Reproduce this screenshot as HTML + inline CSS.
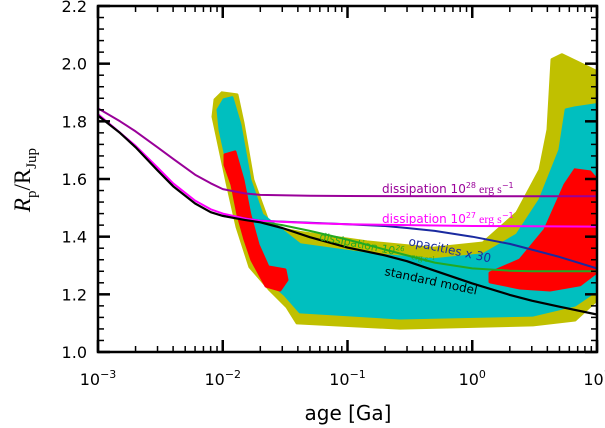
<!DOCTYPE html>
<html><head><meta charset="utf-8"><style>
html,body{margin:0;padding:0;background:#fff;}
svg{display:block;font-family:"DejaVu Sans","Liberation Sans",sans-serif;}
</style></head><body>
<svg id="chart" width="605" height="428" viewBox="0 0 605 428" xmlns="http://www.w3.org/2000/svg">
<g id="regions"></g>
<g id="curves"></g>
<g id="axes"></g>
<g id="labels">
  <text x="382" y="193" font-size="12" fill="#990099">dissipation 10<tspan font-size="8" dy="-5">28</tspan><tspan font-family="Liberation Serif" dy="5"> erg s</tspan><tspan font-size="8" dy="-5">−1</tspan></text>
  <text x="382" y="223" font-size="12" fill="#ff00ff">dissipation 10<tspan font-size="8" dy="-5">27</tspan><tspan font-family="Liberation Serif" dy="5"> erg s</tspan><tspan font-size="8" dy="-5">−1</tspan></text>
  <text x="319" y="240" font-size="11" fill="#22aa22" transform="rotate(11 319 240)">dissipation 10<tspan font-size="7" dy="-5">26</tspan></text>
  <text x="411" y="259" font-size="9" fill="#22aa22" font-family="Liberation Serif" transform="rotate(10 411 259)">erg s<tspan font-size="6" dy="-3">−1</tspan></text>
  <text x="408" y="245" font-size="12" fill="#1a2aa0" transform="rotate(12 408 245)">opacities x 30</text>
  <text x="384" y="275" font-size="12" fill="#000" transform="rotate(12 384 275)">standard model</text>
</g>
<text x="348" y="420" font-size="20" text-anchor="middle">age [Ga]</text>
<text transform="translate(30 180) rotate(-90)" font-size="23" text-anchor="middle" font-family="Liberation Serif"><tspan font-style="italic">R</tspan><tspan font-size="15" dy="6">p</tspan><tspan dy="-6">/R</tspan><tspan font-size="15" dy="6">Jup</tspan></text>
</svg>
<script>
// axis ranges
const xLogMin = -3, xLogMax = 1;
const yMin = 1.0, yMax = 2.2;
const yTickValues = [1.0, 1.2, 1.4, 1.6, 1.8, 2.0, 2.2];
const yTickLabels = ["1.0","1.2","1.4","1.6","1.8","2.0","2.2"];
const xTickExps = [-3, -2, -1, 0, 1];
// curve data: ages (Ga) and radii
const stdAge = [0.001,0.0015,0.002,0.003,0.004,0.006,0.008,0.01,0.015,0.02,0.03,0.05,0.1,0.2,0.3,0.5,1,2,3,5,10];
const stdR   = [1.82,1.76,1.71,1.63,1.575,1.515,1.485,1.472,1.458,1.45,1.43,1.398,1.362,1.335,1.315,1.282,1.238,1.198,1.178,1.157,1.13];
const d28Age = [0.001,0.0015,0.002,0.003,0.004,0.006,0.008,0.01,0.015,0.02,0.05,0.1,1,10];
const d28R   = [1.845,1.80,1.765,1.71,1.67,1.615,1.585,1.565,1.55,1.545,1.542,1.541,1.54,1.54];
const d27Age = [0.001,0.002,0.003,0.004,0.006,0.008,0.01,0.015,0.02,0.05,0.1,1,10];
const d27R   = [1.825,1.715,1.64,1.585,1.525,1.495,1.48,1.463,1.455,1.447,1.443,1.437,1.435];
const opaAge = [0.01,0.02,0.05,0.1,0.2,0.3,0.5,1,2,3,5,10];
const opaR   = [1.475,1.455,1.448,1.443,1.437,1.43,1.42,1.40,1.375,1.355,1.33,1.29];
const d26Age = [0.01,0.02,0.03,0.05,0.1,0.2,0.3,0.5,1,2,3,5,10];
const d26R   = [1.472,1.452,1.44,1.42,1.39,1.355,1.335,1.31,1.29,1.282,1.28,1.28,1.28];
// posterior regions as [log10(age), radius]
const yellowRegion = [[-2.006,1.899],[-1.886,1.892],[-1.838,1.795],[-1.758,1.597],[-1.621,1.434],[-1.381,1.415],[-0.844,1.382],[-0.315,1.36],[0.086,1.378],[0.359,1.483],[0.543,1.632],[0.607,1.771],[0.639,2.014],[0.719,2.031],[1.0,1.972],[1.0,1.181],[0.824,1.111],[0.487,1.094],[-0.579,1.083],[-1.405,1.101],[-1.485,1.156],[-1.621,1.215],[-1.782,1.295],[-1.886,1.434],[-1.966,1.587],[-2.078,1.816],[-2.062,1.875]];
const cyanRegion = [[-1.99,1.875],[-1.926,1.882],[-1.862,1.788],[-1.782,1.597],[-1.685,1.476],[-1.381,1.372],[-0.844,1.34],[-0.315,1.32],[0.086,1.337],[0.359,1.406],[0.543,1.528],[0.703,1.701],[0.752,1.84],[0.824,1.847],[1.0,1.858],[1.0,1.215],[0.824,1.163],[0.487,1.128],[-0.579,1.118],[-1.381,1.139],[-1.501,1.198],[-1.685,1.267],[-1.822,1.406],[-1.926,1.58],[-2.022,1.771],[-2.038,1.84]];
const redLeft = [[-1.982,1.684],[-1.902,1.694],[-1.838,1.597],[-1.782,1.476],[-1.717,1.372],[-1.637,1.295],[-1.501,1.285],[-1.485,1.25],[-1.541,1.215],[-1.653,1.229],[-1.766,1.319],[-1.822,1.389],[-1.878,1.476],[-1.926,1.58],[-1.982,1.649]];
const redRight = [[0.142,1.274],[0.383,1.319],[0.583,1.424],[0.743,1.58],[0.824,1.632],[0.944,1.625],[1.0,1.597],[1.0,1.278],[0.864,1.233],[0.623,1.215],[0.383,1.222],[0.142,1.243]];

const NS = "http://www.w3.org/2000/svg";
const L = 98, R = 597, T = 6, B = 352;
function sx(lg){ return L + (lg - xLogMin) / (xLogMax - xLogMin) * (R - L); }
function sxAge(a){ return sx(Math.log10(a)); }
function sy(v){ return B - (v - yMin) / (yMax - yMin) * (B - T); }
function mk(tag, attrs, parent){ const e = document.createElementNS(NS, tag); for (const k in attrs) e.setAttribute(k, attrs[k]); parent.appendChild(e); return e; }

const clipDefs = mk('defs', {}, document.getElementById('chart'));
const cp = mk('clipPath', {id:'plotclip'}, clipDefs);
mk('rect', {x:L, y:T, width:R-L, height:B-T}, cp);

const regions = document.getElementById('regions');
regions.setAttribute('clip-path','url(#plotclip)');
function region(pts, color, name){
  const p = mk('polygon', {points: pts.map(q => sx(q[0]).toFixed(1)+','+sy(q[1]).toFixed(1)).join(' '), fill: color, stroke: color, 'stroke-width': 3, 'stroke-linejoin':'round'}, regions);
  
  
}
region(yellowRegion, '#c0c000', 'region-2sigma');
region(cyanRegion, '#00bfbf', 'region-1sigma');
region(redLeft, '#ff0000', 'region-best-young');
region(redRight, '#ff0000', 'region-best-old');

const curves = document.getElementById('curves');
curves.setAttribute('clip-path','url(#plotclip)');
function curve(ages, rs, color, w, name){
  const d = ages.map((a,i) => (i?'L':'M') + sxAge(a).toFixed(1) + ' ' + sy(rs[i]).toFixed(1)).join(' ');
  const p = mk('path', {d: d, fill:'none', stroke: color, 'stroke-width': w, 'stroke-linejoin':'round'}, curves);
  
  
}
curve(d26Age, d26R, '#22aa22', 2, 'curve-dissipation-1e26');
curve(opaAge, opaR, '#1a2aa0', 2, 'curve-opacities-x30');
curve(d27Age, d27R, '#ff00ff', 2, 'curve-dissipation-1e27');
curve(d28Age, d28R, '#990099', 2, 'curve-dissipation-1e28');
curve(stdAge, stdR, '#000000', 2.2, 'curve-standard-model');

const axes = document.getElementById('axes');
const frame = mk('rect', {x:L, y:T, width:R-L, height:B-T, fill:'none', stroke:'#000', 'stroke-width':2.5}, axes);


for (let v = yMin; v <= yMax + 1e-9; v += 0.04) {
  const major = Math.abs((v - yMin) / 0.2 - Math.round((v - yMin) / 0.2)) < 1e-6;
  const len = major ? 12 : 6, y = sy(v);
  mk('line', {x1:L, x2:L+len, y1:y, y2:y, stroke:'#000', 'stroke-width': major?2.5:1.5}, axes);
  mk('line', {x1:R, x2:R-len, y1:y, y2:y, stroke:'#000', 'stroke-width': major?2.5:1.5}, axes);
}
yTickValues.forEach((v,i) => {
  const t = mk('text', {x: L-11, y: sy(v)+6, 'font-size':16, 'text-anchor':'end'}, axes);
  t.textContent = yTickLabels[i];
  
  
});
for (let e = xLogMin; e <= xLogMax; e++) {
  const x = sx(e);
  mk('line', {x1:x, x2:x, y1:B, y2:B-12, stroke:'#000', 'stroke-width':2.5}, axes);
  mk('line', {x1:x, x2:x, y1:T, y2:T+12, stroke:'#000', 'stroke-width':2.5}, axes);
  if (e < xLogMax) for (let m = 2; m <= 9; m++) {
    const xm = sx(e + Math.log10(m));
    mk('line', {x1:xm, x2:xm, y1:B, y2:B-6, stroke:'#000', 'stroke-width':1.5}, axes);
    mk('line', {x1:xm, x2:xm, y1:T, y2:T+6, stroke:'#000', 'stroke-width':1.5}, axes);
  }
}
xTickExps.forEach(e => {
  const t = mk('text', {x: sx(e), y: 385, 'font-size':16, 'text-anchor':'middle'}, axes);
  
  
  const a = document.createElementNS(NS,'tspan'); a.textContent = '10'; t.appendChild(a);
  const b = document.createElementNS(NS,'tspan'); b.setAttribute('font-size','11'); b.setAttribute('dy','-7'); b.textContent = e < 0 ? '−' + (-e) : String(e); t.appendChild(b);
});
</script>
</body></html>
